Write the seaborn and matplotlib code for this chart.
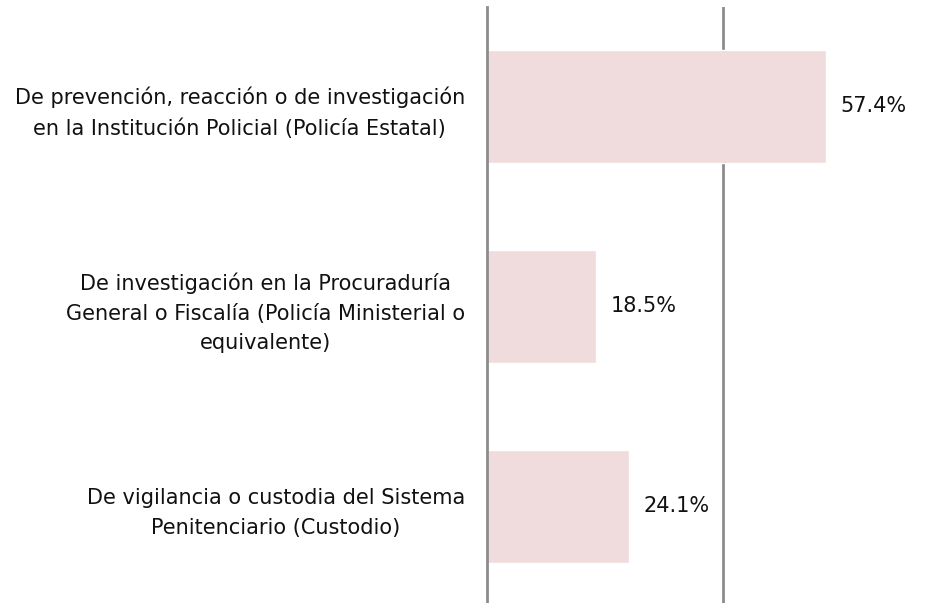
import matplotlib
matplotlib.use('Agg')

import pandas as pd
import matplotlib.pyplot as plt
import seaborn as sns

categories = [
    'De prevención, reacción o de investigación\nen la Institución Policial (Policía Estatal)',
    'De investigación en la Procuraduría\nGeneral o Fiscalía (Policía Ministerial o\nequivalente)',
    'De vigilancia o custodia del Sistema\nPenitenciario (Custodio)',
]
values = [57.4, 18.5, 24.1]
value_labels = ['57.4%', '18.5%', '24.1%']

df = pd.DataFrame({'categoria': categories, 'porcentaje': values})

sns.set_style('white')
plt.rcParams['font.family'] = ['DejaVu Sans']

fig = plt.figure(figsize=(9.42, 6.03), dpi=100)
ax = fig.add_axes([487 / 942, 0.0, 1 - 487 / 942, 596 / 603])

sns.barplot(data=df, y='categoria', x='porcentaje', orient='h',
            color='#F0DCDC', saturation=1, width=0.565, ax=ax)

ax.set_xlim(0, 77.0)
ax.set_ylim(2.485, -0.495)
ax.set_xticks([40])
ax.xaxis.grid(True, color='#8c8c8c', linewidth=2)
ax.set_axisbelow(True)
ax.tick_params(axis='x', length=0, labelbottom=False)
ax.tick_params(axis='y', length=0, pad=16)
for lbl in ax.get_yticklabels():
    lbl.set_fontsize(15)
    lbl.set_color('#111111')
    lbl.set_multialignment('center')
    lbl.set_linespacing(1.6)
ax.set_xlabel('')
ax.set_ylabel('')
for s in ax.spines.values():
    s.set_visible(False)
ax.spines['left'].set_visible(True)
ax.spines['left'].set_color('#8c8c8c')
ax.spines['left'].set_linewidth(2)
ax.spines['left'].set_zorder(5)

for p, txt in zip(ax.patches, value_labels):
    ax.annotate(txt, (p.get_width(), p.get_y() + p.get_height() / 2),
                xytext=(10, 0), textcoords='offset points',
                ha='left', va='center', fontsize=15, color='#111111')

plt.savefig('out.png', dpi=100)
plt.close()
